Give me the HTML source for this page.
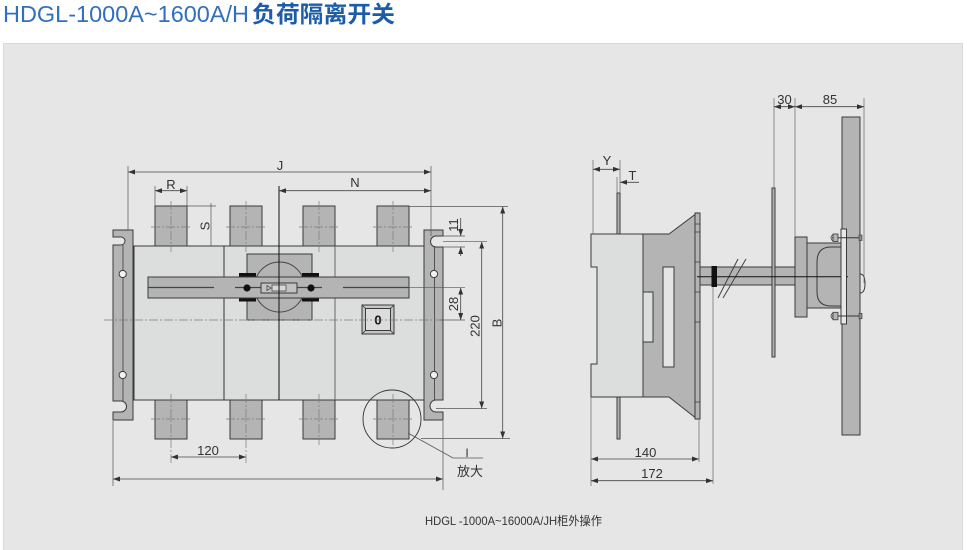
<!DOCTYPE html>
<html><head><meta charset="utf-8"><style>
html,body{margin:0;padding:0;background:#fff;}
svg{display:block;}
</style></head><body>
<svg width="967" height="550" viewBox="0 0 967 550" xmlns="http://www.w3.org/2000/svg">
<defs>
<marker id="a" viewBox="0 0 7 5" refX="7" refY="2.5" markerWidth="7" markerHeight="5" markerUnits="userSpaceOnUse" orient="auto-start-reverse"><path d="M0,0 L7,2.5 L0,5 Z" fill="#333"/></marker>
</defs>
<rect x="0" y="0" width="967" height="550" fill="#fff"/>
<text x="3" y="22" font-family="Liberation Sans, sans-serif" font-size="23" fill="#3270bd" textLength="246" lengthAdjust="spacingAndGlyphs">HDGL-1000A~1600A/H</text>
<text x="252" y="22" font-family="Liberation Sans, 'Noto Sans CJK SC', sans-serif" font-size="23" font-weight="bold" fill="#1d5ca8" textLength="143" lengthAdjust="spacingAndGlyphs">负荷隔离开关</text>
<rect x="3.5" y="43.5" width="959" height="507" fill="#e6e6e6" stroke="#d9d9d9"/>

<!-- FRONT VIEW -->
<g stroke="#3a3a3a" stroke-width="1">
<!-- terminals -->
<g fill="#b4b4b4">
<rect x="155" y="206" width="32" height="40"/><rect x="230" y="206" width="32" height="40"/><rect x="303" y="206" width="32" height="40"/><rect x="377" y="206" width="32" height="40"/>
<rect x="155" y="400" width="32" height="39"/><rect x="230" y="400" width="32" height="39"/><rect x="303" y="400" width="32" height="39"/><rect x="377" y="400" width="32" height="39"/>
</g>
<rect x="134" y="246" width="290" height="154" fill="#dcdedd"/>
<!-- brackets -->
<path d="M113,230 H133 V420 H113 V412 H121 A5.5,5.5 0 0 0 121,401 H113 V245 H121 A4,4 0 0 0 121,237 H113 Z" fill="#b4b4b4"/>
<line x1="123" y1="245" x2="123" y2="401" stroke-width="0.8"/>
<path d="M424,230 H443 V236 H436 A5.5,5.5 0 0 0 436,247 H443 V400 H436 A6,6 0 0 0 436,412 H443 V420 H424 Z" fill="#b4b4b4"/>
<line x1="434.5" y1="247" x2="434.5" y2="400" stroke-width="0.8"/>
<circle cx="122.7" cy="274" r="3.6" fill="#f2f2f2"/>
<circle cx="122.7" cy="375" r="3.6" fill="#f2f2f2"/>
<circle cx="434" cy="274" r="3.6" fill="#f2f2f2"/>
<circle cx="434" cy="375" r="3.6" fill="#f2f2f2"/>
<!-- dividers -->
<line x1="224" y1="246" x2="224" y2="400" stroke="#333"/>
<line x1="335" y1="246" x2="335" y2="400" stroke="#666"/>
<!-- handle assembly -->
<rect x="247" y="254" width="65" height="66" fill="#b4b4b4"/>
<circle cx="279.5" cy="287" r="25" fill="#b4b4b4" stroke="#444"/>
<rect x="239" y="273" width="17" height="3.5" fill="#111" stroke="none"/>
<rect x="302" y="273" width="17" height="3.5" fill="#111" stroke="none"/>
<rect x="239" y="298" width="17" height="3.5" fill="#111" stroke="none"/>
<rect x="302" y="298" width="17" height="3.5" fill="#111" stroke="none"/>
<rect x="148" y="277" width="261" height="21" fill="#b4b4b4"/>
<line x1="148" y1="287.5" x2="214" y2="287.5" stroke="#444" stroke-width="1.3"/>
<line x1="235" y1="287.5" x2="322" y2="287.5" stroke="#444" stroke-width="1.3"/>
<line x1="343" y1="287.5" x2="409" y2="287.5" stroke="#444" stroke-width="1.3"/>
<circle cx="247" cy="288" r="3.6" fill="#111" stroke="none"/>
<circle cx="311" cy="288" r="3.6" fill="#111" stroke="none"/>
<rect x="261" y="283" width="36" height="10" fill="#c2c2c2"/>
<rect x="272" y="285" width="14" height="6" fill="#d8d8d8" stroke-width="0.7"/>
<path d="M271,288 L267,285.5 V290.5 Z" fill="none" stroke-width="0.7"/>
<line x1="279" y1="186" x2="279" y2="400" stroke="#111"/>
<!-- 0 button -->
<rect x="362" y="305" width="32" height="29" fill="#c6c6c6"/>
<rect x="365.5" y="308.5" width="25" height="22" fill="#dcdcdc"/>
<path d="M362,305 L365.5,308.5 M394,305 L390.5,308.5 M362,334 L365.5,330.5 M394,334 L390.5,330.5" stroke-width="0.8"/>
</g>
<text x="378" y="324.5" font-family="Liberation Sans, sans-serif" font-size="13" font-weight="bold" text-anchor="middle" fill="#111">0</text>

<!-- center lines -->
<g stroke="#7a7a7a" stroke-width="0.7" stroke-dasharray="9,2,2,2" fill="none">
<path d="M104,320 H440"/>
<path d="M171,201 V252 M246,201 V252 M319,201 V252 M393,201 V252"/>
<path d="M171,394 V463 M246,394 V463 M319,394 V445 M393,394 V445"/>
<path d="M151,227 H191 M226,227 H266 M299,227 H339 M373,227 H413"/>
<path d="M151,419 H191 M226,419 H266 M299,419 H339 M373,419 H413"/>
</g>

<!-- front dims -->
<g stroke="#555" stroke-width="0.7" fill="none">
<path d="M128,166 V230 M431,166 V236 M155,186 V206 M187,186 V206 M187,206 H216"/>
<path d="M443,236 H465 M443,247 H465 M443,241.7 H487 M436,408.5 H487 M409,287.7 H465 M440,320 H465 M409,206.5 H508 M421,438.5 H510"/>
<path d="M113,421 V486 M443,421 V490"/>
<path d="M211,203 V246"/>
</g>
<g stroke="#444" stroke-width="0.8" fill="none" marker-start="url(#a)" marker-end="url(#a)">
<line x1="128" y1="172" x2="431" y2="172"/>
<line x1="279" y1="190.7" x2="431" y2="190.7"/>
<line x1="155" y1="190.7" x2="187" y2="190.7"/>
<line x1="481.7" y1="241.7" x2="481.7" y2="408.5"/>
<line x1="460.7" y1="287.7" x2="460.7" y2="320"/>
<line x1="502.7" y1="206.5" x2="502.7" y2="438.5"/>
<line x1="171" y1="457" x2="246" y2="457"/>
<line x1="113" y1="479" x2="443" y2="479"/>
</g>
<g stroke="#444" stroke-width="0.8" fill="none">
<line x1="460.7" y1="218" x2="460.7" y2="236" marker-end="url(#a)"/>
<line x1="460.7" y1="256" x2="460.7" y2="247" marker-end="url(#a)"/>
</g>
<g font-family="Liberation Sans, sans-serif" font-size="13" fill="#333" text-anchor="middle">
<text x="280" y="170">J</text>
<text x="355" y="187">N</text>
<text x="171" y="189">R</text>
<text x="208" y="455">120</text>
<text transform="translate(209.5,226) rotate(-90)">S</text>
<text transform="translate(458,225) rotate(-90)">11</text>
<text transform="translate(458,304) rotate(-90)">28</text>
<text transform="translate(479.5,326) rotate(-90)">220</text>
<text transform="translate(501.5,323) rotate(-90)">B</text>
</g>
<!-- magnifier -->
<circle cx="392" cy="419" r="29" fill="none" stroke="#333" stroke-width="0.9"/>
<path d="M408,433 L453,458 H483" fill="none" stroke="#555" stroke-width="0.8"/>
<text x="467" y="457" font-family="Liberation Sans, sans-serif" font-size="12" fill="#333" text-anchor="middle">I</text>
<text x="470" y="476" font-family="Liberation Sans, 'Noto Sans CJK SC', sans-serif" font-size="13" fill="#333" text-anchor="middle">放大</text>

<!-- SIDE VIEW -->
<g stroke="#3a3a3a" stroke-width="1">
<rect x="617" y="193" width="3" height="41" fill="#b4b4b4"/>
<rect x="617" y="397" width="3" height="42" fill="#b4b4b4"/>
<path d="M591,234 H643 V397 H591 V364 H597 V267 H591 Z" fill="#dcdedd"/>
<path d="M643,234 H669 L697,213 V419 L669,397 H643 Z" fill="#b4b4b4"/>
<rect x="643" y="292" width="10" height="50" fill="#dcdedd"/>
<rect x="663" y="267" width="11" height="100" fill="#e4e4e4"/>
<rect x="695" y="213" width="5" height="206" fill="#b4b4b4"/>
<path d="M695,224 H700 M695,232 H700 M695,262 H700 M695,292 H700 M695,322 H700 M695,402 H700" stroke-width="0.8"/>
<rect x="700" y="267" width="95" height="18" fill="#b4b4b4"/>
<rect x="711.5" y="266" width="5.5" height="21" fill="#111" stroke="none"/>
<path d="M718,298 L738,259 M723,298 L746,259" stroke="#444"/>
<rect x="772" y="188" width="3" height="169" fill="#b4b4b4"/>
<rect x="842" y="117" width="18" height="318" fill="#b4b4b4"/>
<path d="M860,274 Q865,274 865,283.5 Q865,293 860,293" fill="none"/>
<rect x="795" y="237" width="12" height="80" fill="#b4b4b4"/>
<rect x="807" y="243" width="35" height="65" fill="#b4b4b4"/>
<path d="M842,247 H831 Q817,247 817,262 V292 Q817,306 831,306 H842" fill="none"/>
<line x1="697" y1="276.7" x2="848" y2="276.7" stroke="#111"/>
<rect x="841" y="229" width="5.5" height="95" fill="#e8e8e8"/>
<path d="M832,237.7 H862 M832,316 H862" stroke="#333"/>
<rect x="833" y="234" width="5" height="7.5" fill="#b4b4b4" stroke-width="0.8"/>
<rect x="833" y="312.3" width="5" height="7.5" fill="#b4b4b4" stroke-width="0.8"/>
<path d="M833,234.5 Q829,237.7 833,241 M833,312.8 Q829,316 833,319.3" fill="none" stroke-width="0.8"/>
<rect x="859" y="235" width="3" height="5.5" fill="#888" stroke-width="0.6"/>
<rect x="859" y="313.3" width="3" height="5.5" fill="#888" stroke-width="0.6"/>
</g>
<g stroke="#666" stroke-width="0.7" fill="none">
<path d="M593,160 V234 M620,160 V193 M617,177 V193"/>
<path d="M774,98 V188 M795,98 V237 M864,98 V283"/>
<path d="M591,397 V486 M699,419 V462 M713,287 V484"/>
</g>
<g stroke="#444" stroke-width="0.8" fill="none" marker-start="url(#a)" marker-end="url(#a)">
<line x1="593" y1="169.3" x2="620" y2="169.3"/>
<line x1="774" y1="106.7" x2="795" y2="106.7"/>
<line x1="795" y1="106.7" x2="864" y2="106.7"/>
<line x1="591" y1="459" x2="699" y2="459"/>
<line x1="591" y1="480.7" x2="713" y2="480.7"/>
</g>
<line x1="639" y1="182.3" x2="620" y2="182.3" stroke="#444" stroke-width="0.8" marker-end="url(#a)"/>
<g font-family="Liberation Sans, sans-serif" font-size="13" fill="#333" text-anchor="middle">
<text x="607" y="165">Y</text>
<text x="632.5" y="180">T</text>
<text x="784.5" y="104">30</text>
<text x="830" y="104">85</text>
<text x="645.5" y="457">140</text>
<text x="652" y="478">172</text>
</g>
<text x="425" y="525" font-family="Liberation Sans, 'Noto Sans CJK SC', sans-serif" font-size="12" fill="#333" textLength="177" lengthAdjust="spacingAndGlyphs">HDGL -1000A~16000A/JH柜外操作</text>
</svg>
</body></html>
